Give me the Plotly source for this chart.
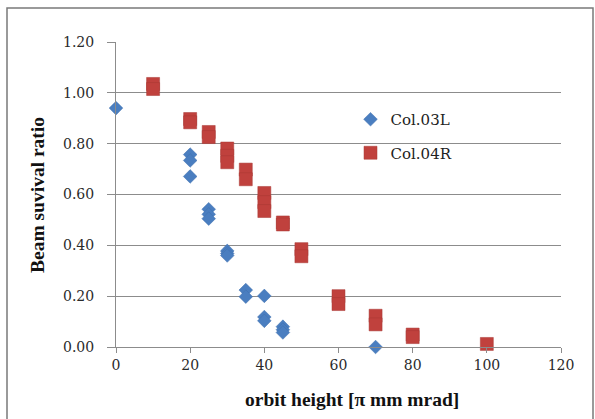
import plotly.graph_objects as go

# Col.03L (blue diamonds)
col03_x = [0, 20, 20, 20, 25, 25, 25, 30, 30, 30, 35, 35, 40, 40, 40, 45, 45, 45, 70]
col03_y = [0.94, 0.757, 0.734, 0.671, 0.542, 0.522, 0.505, 0.378, 0.368, 0.36, 0.224, 0.198, 0.201, 0.118, 0.103, 0.080, 0.068, 0.057, 0.0]

# Col.04R (red squares)
col04_x = [10, 10, 20, 20, 25, 25, 30, 30, 30, 35, 35, 40, 40, 40, 45, 45, 50, 50, 60, 60, 70, 70, 80, 80, 100]
col04_y = [1.035, 1.015, 0.897, 0.884, 0.846, 0.826, 0.781, 0.752, 0.727, 0.698, 0.660, 0.606, 0.570, 0.535, 0.490, 0.482, 0.385, 0.357, 0.200, 0.169, 0.123, 0.089, 0.049, 0.039, 0.012]

x_ticks = [0, 20, 40, 60, 80, 100, 120]
y_ticks = [0.0, 0.2, 0.4, 0.6, 0.8, 1.0, 1.2]
y_tick_labels = ["0.00", "0.20", "0.40", "0.60", "0.80", "1.00", "1.20"]

x_title = "orbit height [π mm mrad]"
y_title = "Beam suvival ratio"

FONT = "DejaVu Serif"
TITLE_FONT = "Liberation Serif"

fig = go.Figure()
fig.add_trace(go.Scatter(
    x=col03_x, y=col03_y, mode="markers", name="Col.03L", legendgroup="a",
    cliponaxis=False,
    marker=dict(symbol="diamond", size=10.5, color="#4A7EC0",
                line=dict(color="#3E6EAD", width=0.5)),
))
fig.add_trace(go.Scatter(
    x=col04_x, y=col04_y, mode="markers", name="Col.04R", legendgroup="b",
    cliponaxis=False,
    marker=dict(symbol="square", size=13, color="#C0413D",
                line=dict(color="#A83834", width=0.5)),
))

fig.update_layout(
    width=595, height=419,
    margin=dict(l=116, r=34, t=42, b=72),
    paper_bgcolor="white", plot_bgcolor="white",
    font=dict(family=FONT, size=14, color="#333333"),
    showlegend=True,
    legend=dict(
        x=0.527, y=0.80, xanchor="left", yanchor="top",
        bgcolor="rgba(0,0,0,0)", borderwidth=0,
        traceorder="grouped", tracegroupgap=11,
        font=dict(family=FONT, size=15, color="#222222"),
        itemwidth=30,
    ),
    xaxis=dict(
        range=[0, 120], tickvals=x_ticks, ticktext=[str(v) for v in x_ticks],
        showgrid=False, zeroline=False,
        showline=True, linecolor="#8C8C8C", linewidth=1,
        ticks="outside", ticklen=5, tickcolor="#8C8C8C",
        tickfont=dict(family=FONT, size=14, color="#2A2A2A"),
    ),
    yaxis=dict(
        range=[0, 1.2], tickvals=y_ticks, ticktext=y_tick_labels,
        showgrid=True, gridcolor="#8C8C8C", gridwidth=1,
        zeroline=False,
        showline=True, linecolor="#8C8C8C", linewidth=1,
        ticks="outside", ticklen=8, tickcolor="#8C8C8C",
        ticklabelstandoff=10,
        tickfont=dict(family=FONT, size=14, color="#2A2A2A"),
    ),
    annotations=[
        dict(text=f"<b>{x_title}</b>", xref="paper", yref="paper",
             x=(352 - 116) / 445, y=(347 - 399) / 305, xanchor="center", yanchor="middle",
             showarrow=False, font=dict(family=TITLE_FONT, size=19.5, color="#111111")),
        dict(text=f"<b>{y_title}</b>", xref="paper", yref="paper", textangle=-90,
             x=(37 - 116) / 445, y=(347 - 195) / 305, xanchor="center", yanchor="middle",
             showarrow=False, font=dict(family=TITLE_FONT, size=19.5, color="#111111")),
    ],
    shapes=[dict(type="rect", xref="paper", yref="paper",
                 x0=(7 - 116) / 445, x1=(593 - 116) / 445,
                 y0=(347 - 430) / 305, y1=(347 - 8) / 305,
                 line=dict(color="#7A7A7A", width=1.5), fillcolor="rgba(0,0,0,0)",
                 layer="below")],
)

fig.write_html("out.html", config={"displayModeBar": False},
               post_script="document.body.style.margin='0px';")
